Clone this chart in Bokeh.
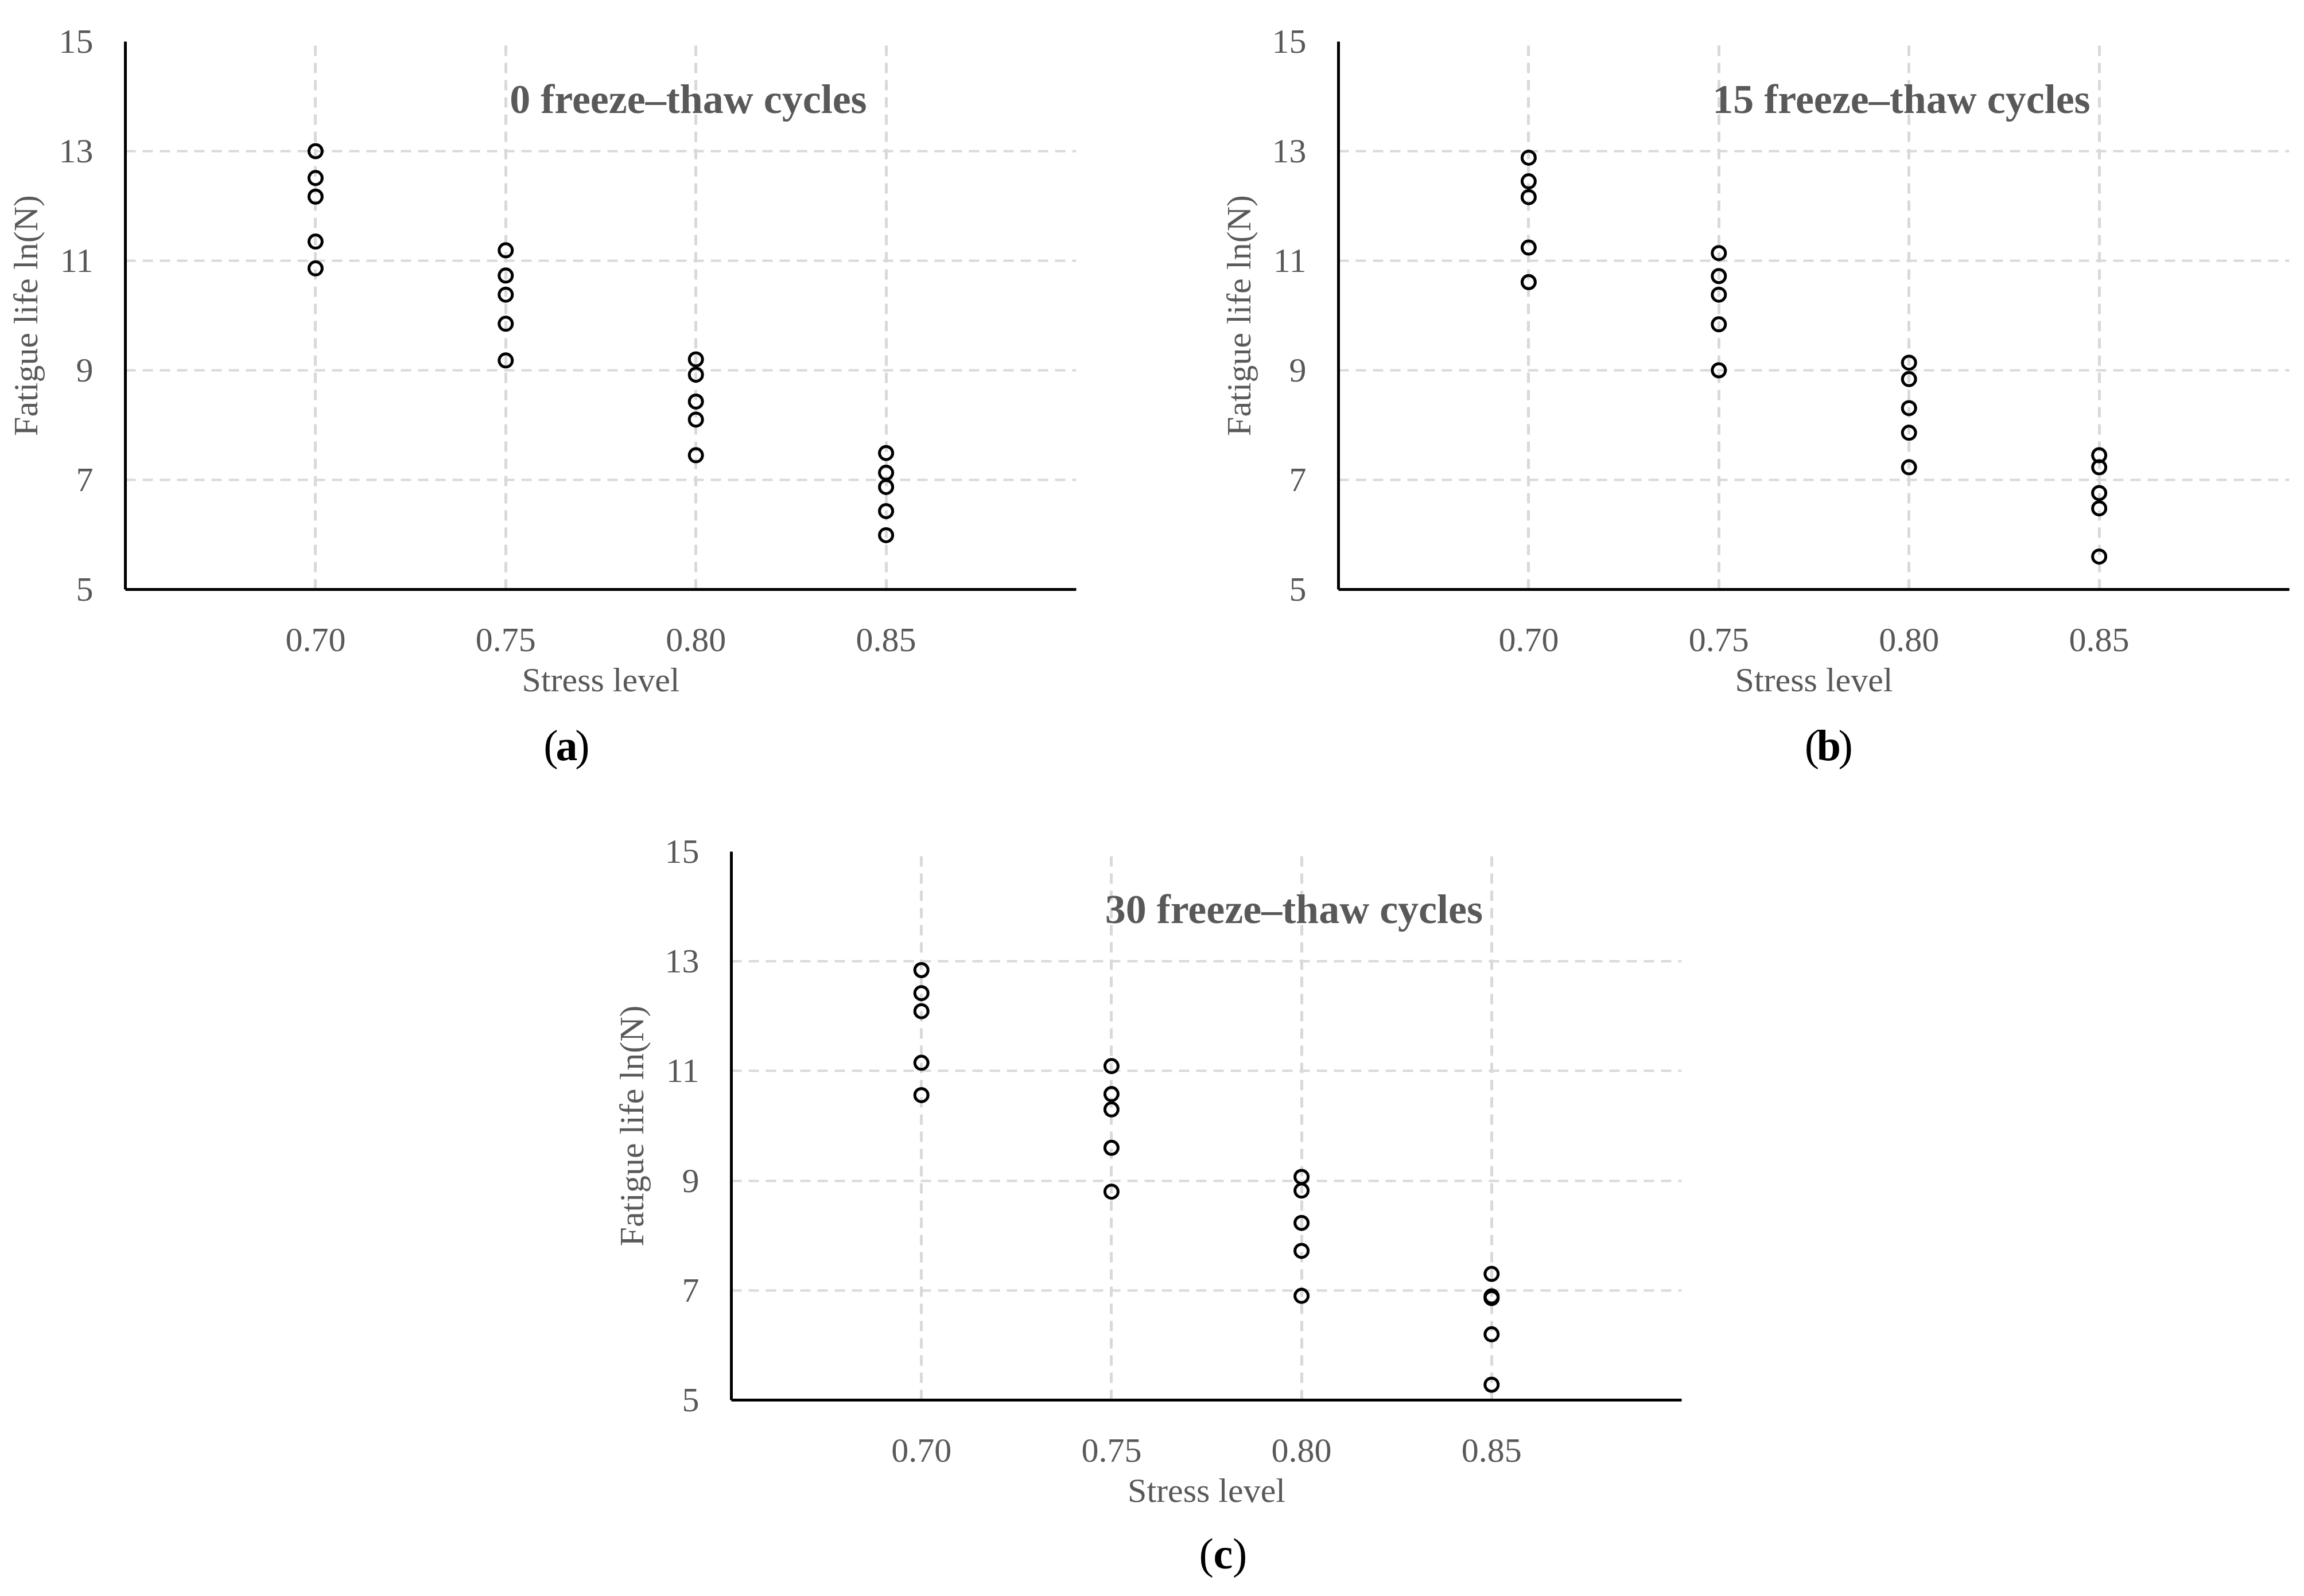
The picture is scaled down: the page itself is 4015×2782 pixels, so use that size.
from bokeh.plotting import figure
from bokeh.models import FixedTicker, NumeralTickFormatter, Label, Spacer
from bokeh.layouts import column, row
from bokeh.embed import file_html
from bokeh.resources import INLINE

# ---------------- data ----------------
stress_levels = [0.70, 0.75, 0.80, 0.85]
x_tick_values = [0.70, 0.75, 0.80, 0.85]
y_tick_values = [5, 7, 9, 11, 13, 15]

# ln(N) per stress level, 0 freeze-thaw cycles
a_070 = [13.00, 12.51, 12.17, 11.35, 10.86]
a_075 = [11.19, 10.73, 10.38, 9.85, 9.18]
a_080 = [9.20, 8.92, 8.43, 8.10, 7.45]
a_085 = [7.49, 7.13, 6.87, 6.43, 5.99]

# 15 freeze-thaw cycles
b_070 = [12.88, 12.45, 12.16, 11.24, 10.61]
b_075 = [11.14, 10.72, 10.38, 9.84, 9.00]
b_080 = [9.14, 8.84, 8.31, 7.86, 7.23]
b_085 = [7.45, 7.23, 6.76, 6.48, 5.60]

# 30 freeze-thaw cycles
c_070 = [12.84, 12.42, 12.09, 11.15, 10.56]
c_075 = [11.09, 10.58, 10.30, 9.60, 8.80]
c_080 = [9.07, 8.82, 8.23, 7.72, 6.90]
c_085 = [7.30, 6.89, 6.86, 6.20, 5.28]

titles = ["0 freeze\u2013thaw cycles", "15 freeze\u2013thaw cycles", "30 freeze\u2013thaw cycles"]
captions = ["a", "b", "c"]
x_label = "Stress level"
y_label = "Fatigue life ln(N)"

FONT = "Liberation Serif"
GRAY = "#595959"
GRID = "#d9d9d9"


def make_panel(groups, title, fw, fh, bl, br, bt, bb):
    p = figure(frame_width=fw, frame_height=fh, x_range=(0.65, 0.90), y_range=(5, 15),
               output_backend="svg", toolbar_location=None,
               min_border_left=bl, min_border_right=br, min_border_top=bt, min_border_bottom=bb)
    p.outline_line_color = None
    p.background_fill_color = "white"
    p.border_fill_color = "white"

    # grids
    p.xgrid.ticker = FixedTicker(ticks=[0.70, 0.75, 0.80, 0.85, 0.90])
    p.ygrid.ticker = FixedTicker(ticks=[7, 9, 11, 13, 15])
    for g in (p.xgrid, p.ygrid):
        g.grid_line_color = GRID
        g.grid_line_dash = "18 12"
    p.xgrid.grid_line_width = 5
    p.ygrid.grid_line_width = 4

    for xv, ys in zip(stress_levels, groups):
        p.scatter([xv] * len(ys), ys, size=23, marker="circle", fill_color=None,
                  line_color="black", line_width=5)

    # axes
    p.xaxis.ticker = FixedTicker(ticks=x_tick_values)
    p.xaxis.formatter = NumeralTickFormatter(format="0.00")
    p.yaxis.ticker = FixedTicker(ticks=y_tick_values)
    for ax in (p.xaxis, p.yaxis):
        ax.axis_line_color = "black"
        ax.axis_line_width = 5
        ax.major_tick_line_color = None
        ax.minor_tick_line_color = None
        ax.major_tick_out = 0
        ax.major_tick_in = 0
        ax.major_label_text_font = FONT
        ax.major_label_text_font_size = "60px"
        ax.major_label_text_color = GRAY
        ax.axis_label_text_font = FONT
        ax.axis_label_text_font_size = "60px"
        ax.axis_label_text_color = GRAY
        ax.axis_label_text_font_style = "normal"
    p.xaxis.axis_label = x_label
    p.yaxis.axis_label = y_label
    p.xaxis.major_label_standoff = 68
    p.yaxis.major_label_standoff = 56
    p.xaxis.axis_label_standoff = 14
    p.yaxis.axis_label_standoff = 22

    # in-plot title
    p.add_layout(Label(x=0.798, y=13.95, text=title, text_align="center",
                       text_baseline="middle", text_font=FONT, text_font_size="72px",
                       text_font_style="bold", text_color=GRAY))
    return p


def make_caption(cap, w, h, cx, cy_top):
    c = figure(width=w, height=h, x_range=(0, w), y_range=(0, h),
               x_axis_type=None, y_axis_type=None, output_backend="svg",
               toolbar_location=None, min_border=0)
    c.outline_line_color = None
    c.border_fill_color = "white"
    c.background_fill_color = "white"
    cy = h - cy_top
    half = 19
    c.add_layout(Label(x=cx - half, y=cy, text="(", text_align="right", text_baseline="middle",
                       text_font=FONT, text_font_size="76px", text_color="black"))
    c.add_layout(Label(x=cx, y=cy, text=cap, text_align="center", text_baseline="middle",
                       text_font=FONT, text_font_size="76px", text_font_style="bold",
                       text_color="black"))
    c.add_layout(Label(x=cx + half, y=cy, text=")", text_align="left", text_baseline="middle",
                       text_font=FONT, text_font_size="76px", text_color="black"))
    return c


# panel a: width 218+1657+239 = 2114, height 72+955+213 = 1240
pa = make_panel([a_070, a_075, a_080, a_085], titles[0], 1657, 955, 218, 239, 72, 213)
ca = make_caption(captions[0], 2114, 172, 981, 58)
# panel b: width 218+1657+20 = 1895
pb = make_panel([b_070, b_075, b_080, b_085], titles[1], 1657, 955, 218, 20, 72, 213)
cb = make_caption(captions[1], 1895, 172, 977, 58)
# panel c
pc = make_panel([c_070, c_075, c_080, c_085], titles[2], 1656, 956, 218, 20, 72, 213)
cc = make_caption(captions[2], 1894, 115, 980, 54)

layout = column(row(column(pa, ca), column(pb, cb)),
                row(Spacer(width=1056, height=10), column(pc, cc)))

open("out.html", "w").write(file_html(layout, INLINE))
